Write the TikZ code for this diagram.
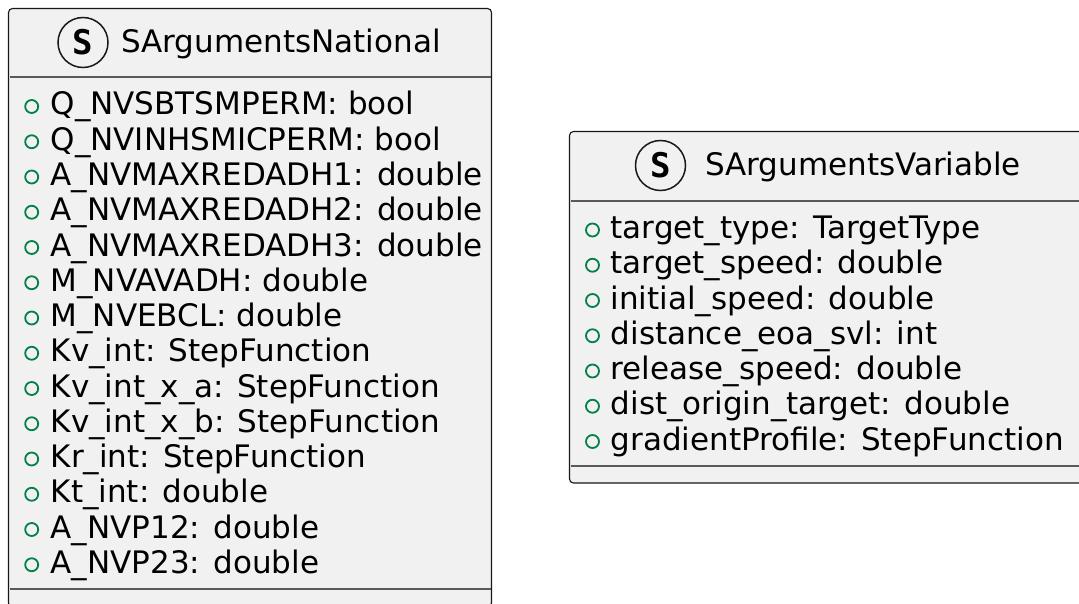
\documentclass[tikz,border=0pt]{standalone}
\usepackage{fontspec}
\setmainfont{DejaVu Sans}
\newfontfamily\spotfont{DejaVu Sans Mono}
\definecolor{boxfill}{HTML}{F1F1F1}
\definecolor{boxline}{HTML}{181818}
\definecolor{sepline}{HTML}{5A5A5A}
\definecolor{pubgreen}{HTML}{038048}
\tikzset{
  classbox/.style={draw=boxline, fill=boxfill, line width=1.1pt, rounded corners=4pt},
  sepstyle/.style={draw=sepline, line width=1.6pt},
  spot/.style={circle, draw=boxline, line width=1.5pt, minimum size=50pt, inner sep=0pt, font=\spotfont\bfseries\fontsize{34}{36}\selectfont},
  titletext/.style={anchor=base west, inner sep=0pt, font=\fontsize{31}{36}\selectfont},
  attr/.style={anchor=base west, inner sep=0pt, font=\fontsize{31}{36}\selectfont},
  marker/.style={circle, draw=pubgreen, line width=1.8pt, minimum size=13pt, inner sep=0pt}
}
\begin{document}
\begin{tikzpicture}[x=1pt,y=-1pt]
\useasboundingbox (0,0) rectangle (1079,604);
\clip (0,0) rectangle (1079,604);
% ---------- SArgumentsNational ----------
\draw[classbox] (8.5,8.5) rectangle (491.5,607);
\draw[sepstyle] (9.5,77) -- (490.5,77);
\draw[sepstyle] (9.5,589) -- (490.5,589);
\node[spot] (spotN) at (83,42.5) {S};
\node[titletext] (titleN) at (121,53) {SArgumentsNational};
\foreach \t [count=\i from 0] in {
  Q\_NVSBTSMPERM: bool,
  Q\_NVINHSMICPERM: bool,
  A\_NVMAXREDADH1: double,
  A\_NVMAXREDADH2: double,
  A\_NVMAXREDADH3: double,
  M\_NVAVADH: double,
  M\_NVEBCL: double,
  Kv\_int: StepFunction,
  Kv\_int\_x\_a: StepFunction,
  Kv\_int\_x\_b: StepFunction,
  Kr\_int: StepFunction,
  Kt\_int: double,
  A\_NVP12: double,
  A\_NVP23: double}{
  \node[marker] (mN\i) at (31.7,{115+35.25*\i-8.5}) {};
  \node[attr] (aN\i) at (50.5,{115+35.25*\i}) {\t};
}
% ---------- SArgumentsVariable ----------
\draw[classbox] (569.5,131.5) rectangle (1092,483);
\draw[sepstyle] (570.5,201) -- (1091,201);
\draw[sepstyle] (570.5,466) -- (1091,466);
\node[spot] (spotV) at (660.5,165.5) {S};
\node[titletext] (titleV) at (705,176) {SArgumentsVariable};
\foreach \t [count=\i from 0] in {
  target\_type: TargetType,
  target\_speed: double,
  initial\_speed: double,
  distance\_eoa\_svl: int,
  release\_speed: double,
  dist\_origin\_target: double,
  gradientProfile: StepFunction}{
  \node[marker] (mV\i) at (592.5,{238.5+35.25*\i-8.5}) {};
  \node[attr] (aV\i) at (610.5,{238.5+35.25*\i}) {\t};
}
\end{tikzpicture}
\end{document}
